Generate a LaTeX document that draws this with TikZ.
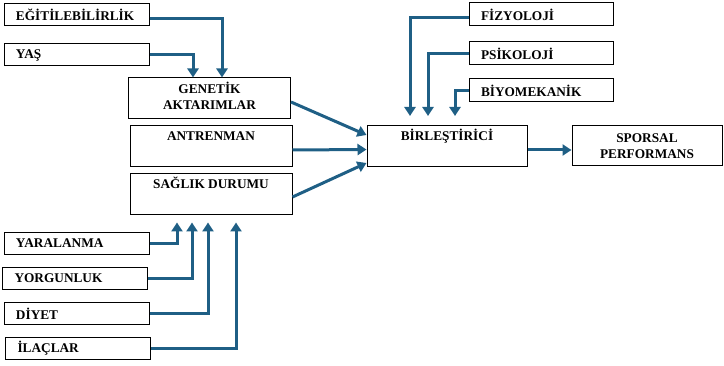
\documentclass[tikz,border=0pt]{standalone}
\usepackage{fontspec}
\setmainfont{Liberation Serif}
\usetikzlibrary{arrows.meta,positioning}
\definecolor{okmavi}{RGB}{31,95,133}
\tikzset{
  kutu/.style = {draw=black, line width=1pt, rectangle, inner sep=0pt,
    font=\fontsize{13.3}{16}\selectfont\bfseries},
  kutu_k/.style = {kutu, minimum height=22pt, text width=121pt,
    inner xsep=12pt, align=left},% kucuk kutu, yazi solda
  kutu_b/.style = {kutu, minimum width=162pt, minimum height=41pt,
    align=center},% buyuk kutu, yazi ortada
  kutu_u/.style = {kutu_b, text height=11pt, text depth=22pt,
    inner ysep=4pt},% buyuk kutu, yazi ustte
  ok/.style = {draw=okmavi, line width=3pt,
    -{Triangle[width=11pt,length=9pt]}}% mavi ok
}

\begin{document}
\begin{tikzpicture}[x=1pt,y=-1pt]
    \useasboundingbox (0,0) rectangle (724,366);
    % sol ust
    \node [kutu_k](egit) at (76.5,15) {EĞİTİLEBİLİRLİK};
    \node [kutu_k, below=17pt of egit](yas) {YAŞ};
    % orta
    \node [kutu_b, text depth=5pt](genetik) at (209.5,98.5) {GENETİK\\AKTARIMLAR};
    \node [kutu_u, below=6pt of genetik, xshift=1.5pt](antren) {ANTRENMAN};
    \node [kutu_u, below=6pt of antren](saglik) {SAĞLIK DURUMU};
    % sol alt
    \node [kutu_k](yara) at (76.5,243.5) {YARALANMA};
    \node [kutu_k, below=12pt of yara, xshift=-1.5pt](yorg) {YORGUNLUK};
    \node [kutu_k, below=12pt of yorg, xshift=1.5pt](diyet) {DİYET};
    \node [kutu_k, below=12pt of diyet, xshift=1.5pt](ilac) {İLAÇLAR};
    % sag
    \node [kutu_u, minimum width=160pt](birles) at (447,146) {BİRLEŞTİRİCİ};
    \node [kutu_b, minimum width=150pt, minimum height=40pt,
        right=44pt of birles](sporsal) {SPORSAL\\PERFORMANS};
    \node [kutu_k, text width=120pt, minimum height=23pt](fizy) at (541,14.5) {FİZYOLOJİ};
    \node [kutu_k, text width=120pt, minimum height=23pt, below=15pt of fizy](psik) {PSİKOLOJİ};
    \node [kutu_k, text width=120pt, minimum height=23pt, below=13pt of psik](biyo) {BİYOMEKANİK};

    \draw [ok] ([yshift=-4pt]egit.east) -| ([xshift=12.5pt]genetik.north);
    \draw [ok] (yas.east) -| ([xshift=-16.5pt]genetik.north);
    \draw [ok] (yara.east) -| ([xshift=-34pt,yshift=-7pt]saglik.south);
    \draw [ok] (yorg.east) -| ([xshift=-19pt,yshift=-7pt]saglik.south);
    \draw [ok] (diyet.east) -| ([xshift=-3pt,yshift=-7pt]saglik.south);
    \draw [ok] (ilac.east) -| ([xshift=25pt,yshift=-7pt]saglik.south);
    \draw [ok] ([yshift=-3.5pt]fizy.west) -| ([xshift=-37pt,yshift=9pt]birles.north);
    \draw [ok] (psik.west) -| ([xshift=-19pt,yshift=9pt]birles.north);
    \draw [ok] (biyo.west) -| ([xshift=8pt,yshift=9pt]birles.north);
    \draw [ok] ([yshift=-3.5pt]genetik.east) -- ([yshift=11pt]birles.west);
    \draw [ok] ([yshift=-3.5pt]antren.east) -- ([yshift=-3.5pt]birles.west);
    \draw [ok] ([yshift=-2.5pt]saglik.east) -- ([yshift=-17pt]birles.west);
    \draw [ok] ([yshift=-4pt]birles.east) -- ([yshift=-4pt]sporsal.west);
\end{tikzpicture}
\end{document}
